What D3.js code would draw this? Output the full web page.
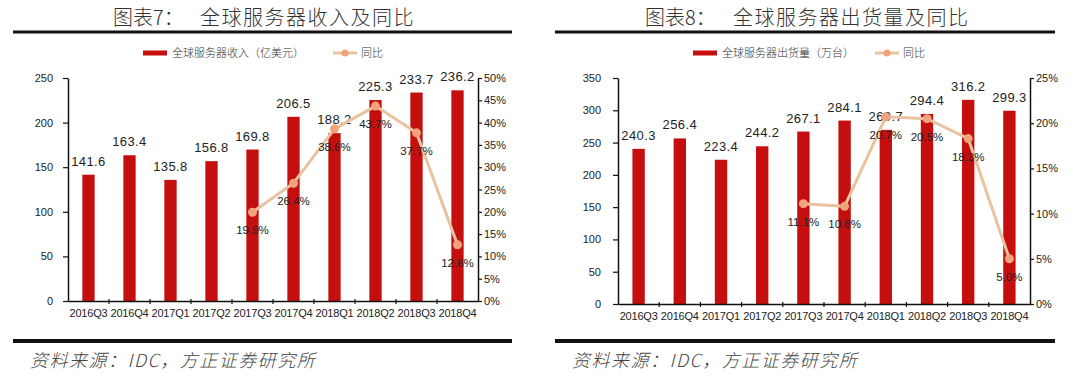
<!DOCTYPE html>
<html>
<head>
<meta charset="utf-8">
<script src="https://cdn.jsdelivr.net/npm/d3@7"></script>
<style>
  body { margin: 0; background: #fff; }
  svg { display: block; }
  .tick text { fill: #222; }
</style>
</head>
<body>
<script>
// canvas size
const width = 1080;
const height = 377;

// quarters on the x axis
const quarters = ["2016Q3", "2016Q4", "2017Q1", "2017Q2", "2017Q3", "2017Q4", "2018Q1", "2018Q2", "2018Q3", "2018Q4"];
// yoy only starts from 2017Q3
const yoyQuarters = ["2017Q3", "2017Q4", "2018Q1", "2018Q2", "2018Q3", "2018Q4"];

// chart 7: revenue (亿美元) and yoy (%)
const revenue = [141.6, 163.4, 135.8, 156.8, 169.8, 206.5, 188.2, 225.3, 233.7, 236.2];
const revenueYoy = [19.9, 26.4, 38.6, 43.7, 37.7, 12.6];
const revenueTicks = [0, 50, 100, 150, 200, 250];
const revenueYoyTicks = [0, 5, 10, 15, 20, 25, 30, 35, 40, 45, 50];

// chart 8: shipments (万台) and yoy (%)
const shipments = [240.3, 256.4, 223.4, 244.2, 267.1, 284.1, 269.7, 294.4, 316.2, 299.3];
const shipmentsYoy = [11.1, 10.8, 20.7, 20.5, 18.3, 5.0];
const shipmentsTicks = [0, 50, 100, 150, 200, 250, 300, 350];
const shipmentsYoyTicks = [0, 5, 10, 15, 20, 25];

// colours
const barColor = "#c50f0f";
const lineColor = "#e9c3a0";
const dotColor = "#f3a37b";
const textColor = "#333";
const numFont = "'Liberation Sans', Arial, sans-serif";
const cjkFont = "'Noto Sans CJK SC', sans-serif";

const svg = d3.select("body").append("svg")
    .attr("width", width)
    .attr("height", height);

function drawPanel(p) {
    const g = svg.append("g");

    // title
    g.append("text")
        .attr("x", p.titleX)
        .attr("y", 25)
        .attr("fill", textColor)
        .style("font-family", cjkFont)
        .style("font-size", "20px")
        .style("font-weight", 300)
        .text(p.titleNo);
    g.append("text")
        .attr("x", p.titleX2)
        .attr("y", 25)
        .attr("fill", textColor)
        .style("font-family", cjkFont)
        .style("font-size", "20px")
        .style("font-weight", 300)
        .style("letter-spacing", "1.5px")
        .text(p.title);

    // thick rules top and bottom
    g.append("rect")
        .attr("x", p.ruleX0).attr("y", 30.5)
        .attr("width", p.ruleX1 - p.ruleX0).attr("height", 3)
        .attr("fill", "#111");
    g.append("rect")
        .attr("x", p.ruleX0).attr("y", 339)
        .attr("width", p.ruleX1 - p.ruleX0).attr("height", 4)
        .attr("fill", "#111");

    // legend
    g.append("rect")
        .attr("x", p.legX).attr("y", 50.5)
        .attr("width", 24).attr("height", 5)
        .attr("fill", barColor);
    g.append("text")
        .attr("x", p.legX + 29).attr("y", 57)
        .attr("fill", textColor)
        .style("font-family", cjkFont)
        .style("font-size", "11px")
        .style("font-weight", 300)
        .text(p.legBar);
    g.append("line")
        .attr("x1", p.legLineX).attr("x2", p.legLineX + 24)
        .attr("y1", 53).attr("y2", 53)
        .attr("stroke", lineColor).attr("stroke-width", 3);
    g.append("circle")
        .attr("cx", p.legLineX + 12).attr("cy", 53).attr("r", 3.5)
        .attr("fill", dotColor);
    g.append("text")
        .attr("x", p.legLineX + 28).attr("y", 57)
        .attr("fill", textColor)
        .style("font-family", cjkFont)
        .style("font-size", "11px")
        .style("font-weight", 300)
        .text("同比");

    // scales
    const x = d3.scaleBand().domain(quarters).range([p.x0, p.x1]).padding(0);
    const yL = d3.scaleLinear().domain([0, p.maxL]).range([p.yBottom, p.yTop]);
    const yR = d3.scaleLinear().domain([0, p.maxR]).range([p.yBottom, p.yTop]);
    const barW = x.bandwidth() * 0.3;

    // bars
    g.append("g").selectAll("rect")
        .data(p.bars)
        .join("rect")
        .attr("x", (d, i) => x(quarters[i]) + x.bandwidth() / 2 - barW / 2)
        .attr("y", d => yL(d))
        .attr("width", barW)
        .attr("height", d => yL(0) - yL(d))
        .attr("fill", barColor);

    // bar value labels
    g.append("g").selectAll("text")
        .data(p.bars)
        .join("text")
        .attr("x", (d, i) => x(quarters[i]) + x.bandwidth() / 2)
        .attr("y", d => yL(d) - 9)
        .attr("text-anchor", "middle")
        .attr("fill", "#222")
        .style("font-family", numFont)
        .style("font-size", "13px")
        .style("letter-spacing", "0.4px")
        .text(d => d.toFixed(1));

    // axes
    const axL = g.append("g")
        .attr("transform", `translate(${p.x0},0)`)
        .call(d3.axisLeft(yL).tickValues(p.ticksL).tickSize(5).tickSizeOuter(0).tickPadding(p.padL));
    const axR = g.append("g")
        .attr("transform", `translate(${p.x1},0)`)
        .call(d3.axisRight(yR).tickValues(p.ticksR).tickSize(4).tickSizeOuter(0).tickPadding(2)
            .tickFormat(d => d + "%"));
    const axB = g.append("g")
        .attr("transform", `translate(0,${p.yBottom})`)
        .call(d3.axisBottom(x).tickSize(0).tickSizeOuter(0).tickPadding(p.padB));
    [axL, axR, axB].forEach(a => {
        a.select(".domain").attr("stroke", "#111").attr("stroke-width", 1.5);
        a.selectAll(".tick line").attr("stroke", "#111").attr("stroke-width", 1.2);
        a.selectAll(".tick text")
            .style("font-family", numFont)
            .style("font-size", "11px");
    });
    axB.selectAll(".tick text").style("letter-spacing", "-0.2px");

    // category boundary ticks on x axis
    g.append("g").selectAll("line")
        .data(quarters.slice(1))
        .join("line")
        .attr("x1", d => x(d)).attr("x2", d => x(d))
        .attr("y1", p.yBottom - 2).attr("y2", p.yBottom + 3)
        .attr("stroke", "#111").attr("stroke-width", 1.2);

    // yoy line
    const line = d3.line()
        .x((d, i) => x(yoyQuarters[i]) + x.bandwidth() / 2)
        .y(d => yR(d));
    g.append("path")
        .datum(p.yoy)
        .attr("d", line)
        .attr("fill", "none")
        .attr("stroke", lineColor)
        .attr("stroke-width", 3);
    g.append("g").selectAll("circle")
        .data(p.yoy)
        .join("circle")
        .attr("cx", (d, i) => x(yoyQuarters[i]) + x.bandwidth() / 2)
        .attr("cy", d => yR(d))
        .attr("r", 4.5)
        .attr("fill", dotColor);
    g.append("g").selectAll("text")
        .data(p.yoy)
        .join("text")
        .attr("x", (d, i) => x(yoyQuarters[i]) + x.bandwidth() / 2)
        .attr("y", d => yR(d) + 22)
        .attr("text-anchor", "middle")
        .attr("fill", "#222")
        .style("font-family", numFont)
        .style("font-size", "11.5px")
        .text(d => d.toFixed(1) + "%");

    // source note
    g.append("text")
        .attr("x", p.srcX).attr("y", 367)
        .attr("fill", "#444")
        .style("font-family", cjkFont)
        .style("font-size", "18px")
        .style("font-weight", 300)
        .style("font-style", "italic")
        .style("letter-spacing", "1.5px")
        .text("资料来源：IDC，方正证券研究所");
}

drawPanel({
    titleNo: "图表7：", title: "全球服务器收入及同比",
    titleX: 113, titleX2: 200,
    ruleX0: 13, ruleX1: 512,
    legX: 143, legLineX: 333,
    legBar: "全球服务器收入（亿美元）",
    x0: 68, x1: 478, yTop: 78, yBottom: 301,
    maxL: 250, maxR: 50,
    ticksL: revenueTicks, ticksR: revenueYoyTicks,
    padL: 10, padB: 8,
    bars: revenue, yoy: revenueYoy,
    srcX: 30
});

drawPanel({
    titleNo: "图表8：", title: "全球服务器出货量及同比",
    titleX: 645, titleX2: 733,
    ruleX0: 555, ruleX1: 1055,
    legX: 693, legLineX: 875,
    legBar: "全球服务器出货量（万台）",
    x0: 618, x1: 1030, yTop: 78, yBottom: 304,
    maxL: 350, maxR: 25,
    ticksL: shipmentsTicks, ticksR: shipmentsYoyTicks,
    padL: 12, padB: 8,
    bars: shipments, yoy: shipmentsYoy,
    srcX: 572
});
</script>
</body>
</html>
